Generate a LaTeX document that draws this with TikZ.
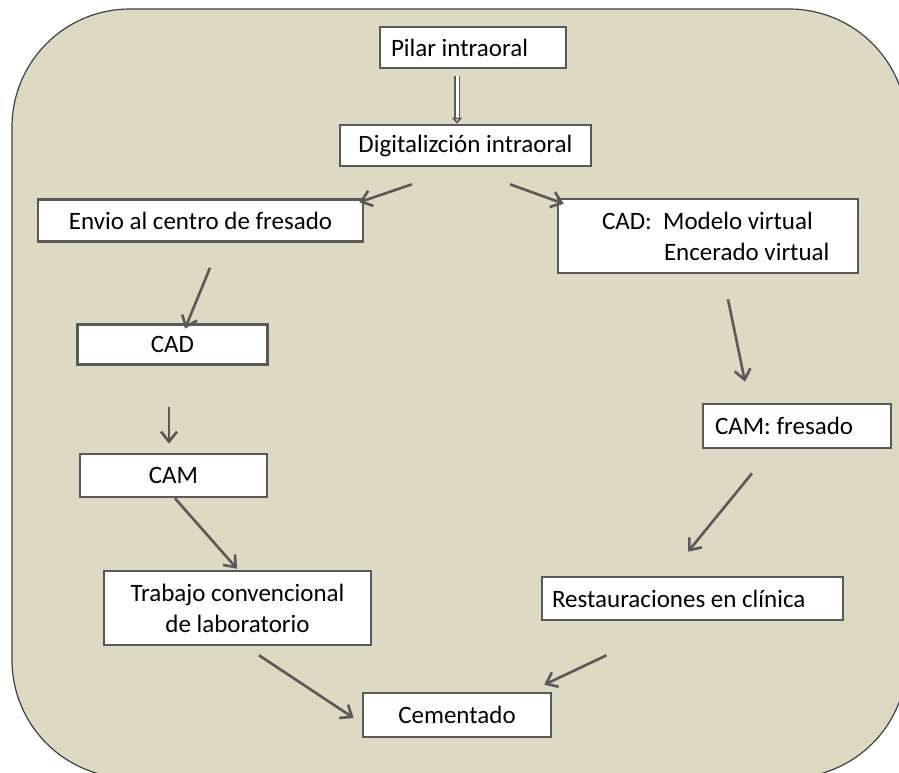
\documentclass[tikz,border=0pt]{standalone}
\usepackage{fontspec}
\setmainfont{Carlito}
\usetikzlibrary{arrows.meta}
\definecolor{panel}{RGB}{221,217,195}
\definecolor{edge}{RGB}{89,89,89}
\tikzset{
  stepbox/.style={draw=edge, line width=2.6pt, fill=white, inner sep=0pt,
    font=\fontsize{25}{31}\selectfont, text=black},
  flow/.style={draw=edge, line width=2.6pt,
    -{Straight Barb[length=10pt,width=16pt,line width=2.6pt]}},
}
\begin{document}
\begin{tikzpicture}[x=1pt,y=-1pt]
\useasboundingbox (0,0) rectangle (899,773);
\clip (0,0) rectangle (899,773);
% panel behind the flow chart
\draw[fill=panel, draw=black!75, line width=1.2pt, rounded corners=118pt]
  (12,9) rectangle (907,778);

% steps
\node[stepbox, minimum width=186, minimum height=41]
  (pilar) at (473,47.5) {\makebox[164pt][l]{Pilar intraoral}};
\node[stepbox, minimum width=251, minimum height=41, align=center]
  (dig) at (465.5,145.5) {Digitalizción intraoral};
\node[stepbox, minimum width=325, minimum height=42, align=center]
  (env) at (200.5,220.5) {Envio al centro de fresado};
\node[stepbox, minimum width=300, minimum height=74, align=left]
  (cadr) at (708,236)
  {\makebox[296pt][l]{\hspace*{42pt}CAD:\ \ Modelo virtual}\\
   \makebox[296pt][l]{\hspace*{104pt}Encerado virtual}};
\node[stepbox, minimum width=190, minimum height=40, align=center]
  (cadl) at (172.5,344.5) {CAD};
\node[stepbox, minimum width=187, minimum height=43, align=center]
  (cam) at (173.5,475.5) {CAM};
\node[stepbox, minimum width=267, minimum height=74, align=center]
  (trab) at (237.5,608) {Trabajo convencional\\de laboratorio};
\node[stepbox, minimum width=188, minimum height=44]
  (camf) at (797,426) {\makebox[164pt][l]{CAM: fresado}};
\node[stepbox, minimum width=301, minimum height=43]
  (rest) at (692.5,598.5) {\makebox[281pt][l]{Restauraciones en clínica}};
\node[stepbox, minimum width=188, minimum height=44, align=center]
  (cem) at (457,715) {Cementado};

% connectors
\draw[draw=edge, line width=1.8pt, double=white, double distance=3pt,
      -{Triangle[open,length=6pt,width=10pt]}]
  ([shift={(-16,7)}]pilar.south) -- ([shift={(-8.5,0)}]dig.north);
\draw[flow] ([shift={(-53.5,17)}]dig.south) -- ([shift={(-5,4)}]env.north east);
\draw[flow] ([shift={(44.5,17)}]dig.south) -- ([shift={(7,6)}]cadr.north west);
\draw[flow] ([shift={(9.5,25)}]env.south) -- ([shift={(12.5,5.5)}]cadl.north);
\draw[flow] ([shift={(20,25)}]cadr.south) -- ([shift={(-52,-21)}]camf.north);
\draw[flow] ([shift={(-3.5,41.5)}]cadl.south) -- ([shift={(-4.5,-9)}]cam.north);
\draw[flow] ([shift={(1.5,0)}]cam.south) -- ([shift={(-0.5,-1)}]trab.north);
\draw[flow] ([shift={(-45,24)}]camf.south) -- ([shift={(-4.5,-24)}]rest.north);
\draw[flow] ([shift={(21.5,9)}]trab.south) -- ([shift={(-8,3)}]cem.west);
\draw[flow] ([shift={(-86,34)}]rest.south) -- ([shift={(-8,-7)}]cem.north east);
\end{tikzpicture}
\end{document}
